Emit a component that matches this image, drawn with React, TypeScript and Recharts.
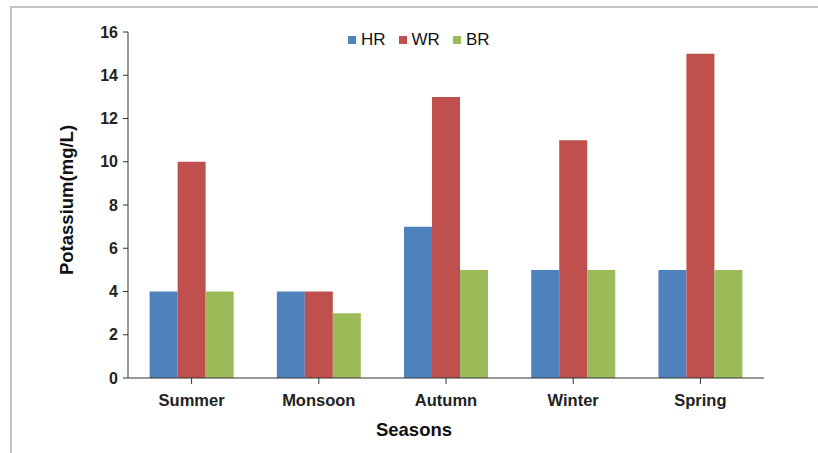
import { Bar, BarChart, Legend, XAxis, YAxis } from "recharts";

const seasons = ["Summer", "Monsoon", "Autumn", "Winter", "Spring"];
const hrValues = [4, 4, 7, 5, 5];
const wrValues = [10, 4, 13, 11, 15];
const brValues = [4, 3, 5, 5, 5];
const yTicks = [0, 2, 4, 6, 8, 10, 12, 14, 16];

const series = [
  { key: "HR", color: "#4F81BD" },
  { key: "WR", color: "#C0504D" },
  { key: "BR", color: "#9BBB59" },
];

const data = seasons.map((season, i) => ({
  season,
  HR: hrValues[i],
  WR: wrValues[i],
  BR: brValues[i],
}));

const font = "'Liberation Sans', Arial, sans-serif";
const axisColor = "#333333";

function LegendBox() {
  return (
    <div style={{ display: "flex", fontFamily: font, fontSize: 17, color: "#111" }}>
      {series.map((s) => (
        <div key={s.key} style={{ display: "flex", alignItems: "center", marginRight: 13 }}>
          <span
            style={{ display: "inline-block", width: 8, height: 8, background: s.color, marginRight: 5 }}
          />
          <span>{s.key}</span>
        </div>
      ))}
    </div>
  );
}

export default function App() {
  return (
    <div
      style={{
        position: "fixed",
        left: 0,
        top: 0,
        width: 818,
        height: 453,
        background: "#fff",
        fontFamily: font,
      }}
    >
      <div
        style={{
          position: "absolute",
          left: 10,
          top: 6,
          width: 808,
          height: 447,
          borderLeft: "2px solid #c4c4c4",
          borderTop: "2px solid #c4c4c4",
        }}
      />
      <BarChart
        width={818}
        height={453}
        data={data}
        margin={{ top: 32, right: 54, left: 0, bottom: 0 }}
        barCategoryGap="17%"
        barGap={0}
        style={{ position: "absolute", left: 0, top: 0 }}
      >
        <XAxis
          dataKey="season"
          stroke={axisColor}
          tickSize={6}
          tickMargin={10}
          tick={{ fontSize: 16.5, fontWeight: "bold", fill: "#222", fontFamily: font }}
          height={75}
          label={({ viewBox }: any) => (
            <text
              x={viewBox.x + viewBox.width / 2 - 32}
              y={436}
              textAnchor="middle"
              fontSize={18.5}
              fontWeight="bold"
              fontFamily={font}
              fill="#111"
            >
              Seasons
            </text>
          )}
        />
        <YAxis
          width={128}
          domain={[0, 16]}
          ticks={yTicks}
          interval={0}
          stroke={axisColor}
          tickSize={5}
          tickMargin={5}
          tick={{ fontSize: 16, fontWeight: "bold", fill: "#222", fontFamily: font }}
          label={({ viewBox }: any) => (
            <text
              x={66}
              y={viewBox.y + viewBox.height / 2 - 5}
              transform={`rotate(-90 66 ${viewBox.y + viewBox.height / 2 - 5})`}
              textAnchor="middle"
              dominantBaseline="central"
              fontSize={18.5}
              fontWeight="bold"
              fontFamily={font}
              fill="#111"
            >
              Potassium(mg/L)
            </text>
          )}
        />
        <Legend
          layout="horizontal"
          verticalAlign="middle"
          align="center"
          content={() => <LegendBox />}
          wrapperStyle={{ top: 30, left: 348, width: 170 }}
        />
        {series.map((s) => (
          <Bar key={s.key} dataKey={s.key} fill={s.color} isAnimationActive={false} />
        ))}
      </BarChart>
    </div>
  );
}
